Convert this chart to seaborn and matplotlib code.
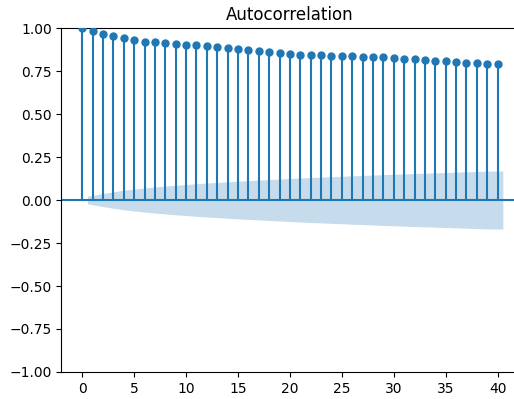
import numpy as np
import matplotlib
matplotlib.use('Agg')
import matplotlib.pyplot as plt
import seaborn as sns

# lags and autocorrelation values
lags = list(range(0, 41))
acf_values = [
    1.000, 0.983, 0.968, 0.953, 0.944, 0.932, 0.921, 0.916, 0.911, 0.905,
    0.901, 0.899, 0.893, 0.890, 0.884, 0.879, 0.872, 0.866, 0.860, 0.855,
    0.849, 0.845, 0.845, 0.841, 0.840, 0.837, 0.836, 0.833, 0.832, 0.830,
    0.827, 0.822, 0.820, 0.813, 0.810, 0.806, 0.802, 0.798, 0.796, 0.793,
    0.790,
]
# half width of the confidence band for lags 1..40
band_half = [
    0.022, 0.038, 0.048, 0.057, 0.064, 0.070, 0.076, 0.081, 0.086, 0.090,
    0.095, 0.099, 0.102, 0.106, 0.110, 0.113, 0.116, 0.119, 0.122, 0.125,
    0.128, 0.131, 0.133, 0.136, 0.138, 0.141, 0.143, 0.145, 0.148, 0.150,
    0.152, 0.154, 0.156, 0.158, 0.160, 0.162, 0.164, 0.166, 0.168, 0.169,
]

fig = plt.figure(figsize=(5.14, 3.99), dpi=100)
ax = fig.add_axes([0.1196, 0.0677, 0.889, 0.862])

color = 'C0'
ax.vlines(lags, 0, acf_values, color=color, linewidth=1.5)
ax.axhline(0, color=color, linewidth=1.5)
sns.scatterplot(x=lags, y=acf_values, ax=ax, color=color, s=25,
                edgecolor=color, linewidth=1, zorder=3)

band_x = np.array(lags[1:], dtype=float)
band_x[0] -= 0.5
band_x[-1] += 0.5
band = np.array(band_half)
ax.fill_between(band_x, -band, band, color=color, alpha=0.25, linewidth=0)

ax.set_xlim(-2, 42)
ax.set_ylim(-1, 1)
ax.set_xticks([0, 5, 10, 15, 20, 25, 30, 35, 40])
ax.set_yticks([-1.0, -0.75, -0.5, -0.25, 0.0, 0.25, 0.5, 0.75, 1.0])
ax.set_yticklabels(['−1.00', '−0.75', '−0.50', '−0.25', '0.00', '0.25', '0.50', '0.75', '1.00'])
ax.set_title('Autocorrelation')

fig.savefig('out.png', dpi=100)
